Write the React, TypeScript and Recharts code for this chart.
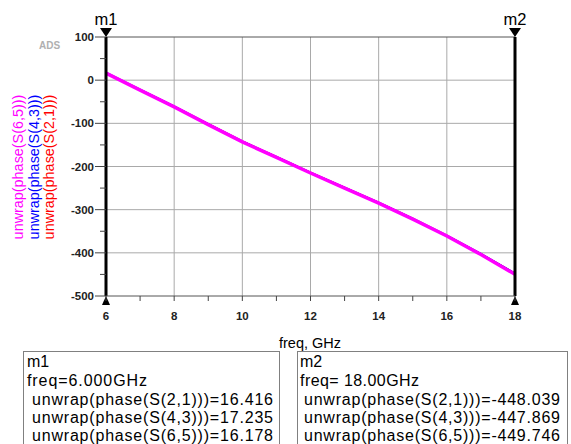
import React from 'react';
import {
  LineChart, Line, XAxis, YAxis, ReferenceLine, ReferenceDot,
} from 'recharts';

const freqs = [6, 7, 8, 9, 10, 11, 12, 13, 14, 15, 16, 17, 18];
const s21 = [16.416, -22.5, -61.5, -102, -142, -178, -214, -249, -284, -321, -360, -403, -448.039];
const s43 = [17.235, -22, -61, -102, -142, -178, -214, -249, -284, -321, -360, -402.5, -447.869];
const s65 = [16.178, -23, -62, -103, -143, -179, -215, -250, -285, -322, -361, -404, -449.746];

const xTicks = [6, 7, 8, 9, 10, 11, 12, 13, 14, 15, 16, 17, 18];
const yTicks = [-500, -450, -400, -350, -300, -250, -200, -150, -100, -50, 0, 50, 100];
const xGrid = [8, 10, 12, 14, 16];
const yGrid = [0, -100, -200, -300, -400];

const yLabels = [
  { text: 'unwrap(phase(S(6,5)))', color: '#ff00ff' },
  { text: 'unwrap(phase(S(4,3)))', color: '#0000ff' },
  { text: 'unwrap(phase(S(2,1)))', color: '#ff0000' },
];

const m1Lines = ['m1', 'freq=6.000GHz', 'unwrap(phase(S(2,1)))=16.416', 'unwrap(phase(S(4,3)))=17.235', 'unwrap(phase(S(6,5)))=16.178'];
const m2Lines = ['m2', 'freq= 18.00GHz', 'unwrap(phase(S(2,1)))=-448.039', 'unwrap(phase(S(4,3)))=-447.869', 'unwrap(phase(S(6,5)))=-449.746'];

const data = freqs.map((f, i) => ({ f, s21: s21[i], s43: s43[i], s65: s65[i] }));

const FONT = 'Arial, "Liberation Sans", sans-serif';
const GRID = '#a9a9a9';

const YTick = (props: any) => {
  const { x, y, payload } = props;
  const v = payload.value;
  const major = v % 100 === 0;
  return (
    <g>
      <line x1={x - (major ? 11 : 6)} x2={x} y1={y} y2={y} stroke="#444" strokeWidth={1} />
      {major && (
        <text x={x - 12} y={y} dy="0.36em" textAnchor="end" fontSize={11.5} fontWeight="bold" fontFamily={FONT} fill="#222">
          {v}
        </text>
      )}
    </g>
  );
};

const XTick = (props: any) => {
  const { x, y, payload } = props;
  const v = payload.value;
  const major = v % 2 === 0;
  return (
    <g>
      <line x1={x} x2={x} y1={y} y2={y + 5} stroke="#444" strokeWidth={1} />
      {major && (
        <text x={x} y={y + 24} textAnchor="middle" fontSize={11.5} fontWeight="bold" fontFamily={FONT} fill="#222">
          {v}
        </text>
      )}
    </g>
  );
};

const topMarker = (name: string) => (props: any) => {
  const { cx, cy } = props;
  return (
    <g>
      <path d={`M${cx - 6},${cy - 9} L${cx + 6},${cy - 9} L${cx},${cy} Z`} fill="#000" />
      <text x={cx} y={cy - 12} textAnchor="middle" fontSize={16.5} fontFamily={FONT} fill="#000">{name}</text>
    </g>
  );
};

const bottomMarker = (props: any) => {
  const { cx, cy } = props;
  return <path d={`M${cx - 4},${cy + 9} L${cx + 4},${cy + 9} L${cx},${cy} Z`} fill="#000" />;
};

const MarkerBox = ({ x, w, tx, ux, lines, longLen, freqLen }: { x: number; w: number; tx: number; ux: number; lines: string[]; longLen: number; freqLen: number }) => {
  const baselines = [367, 386, 404.5, 423, 441];
  return (
    <g>
      <rect x={x + 0.5} y={351.5} width={w} height={120} fill="#fff" stroke="#808080" strokeWidth={1} />
      {lines.map((t, i) => {
        const extra: any = {};
        if (i >= 2) { extra.textLength = longLen; }
        if (i === 1) { extra.textLength = freqLen; }
        return (
          <text key={i} x={i >= 2 ? ux : tx} y={baselines[i]} fontSize={16} fontFamily={FONT} fill="#000" {...extra}>
            {t}
          </text>
        );
      })}
    </g>
  );
};

export default function App() {
  return (
    <div style={{ position: 'absolute', left: 0, top: 0, width: 571, height: 444, background: '#fff', overflow: 'hidden' }}>
      <LineChart
        width={571}
        height={444}
        data={data}
        margin={{ top: 37, right: 56, left: 46, bottom: 118 }}
      >
        <XAxis
          dataKey="f"
          type="number"
          domain={[6, 18]}
          ticks={xTicks}
          interval={0}
          height={30}
          tick={<XTick />}
          tickLine={false}
          tickSize={0}
          tickMargin={0}
          axisLine={{ stroke: '#555', strokeWidth: 1 }}
        />
        <YAxis
          type="number"
          domain={[-500, 100]}
          ticks={yTicks}
          interval={0}
          width={60}
          tick={<YTick />}
          tickLine={false}
          tickSize={0}
          tickMargin={0}
          axisLine={false}
        />
        <ReferenceLine x={xGrid[0]} stroke={GRID} strokeWidth={1} />
        <ReferenceLine x={xGrid[1]} stroke={GRID} strokeWidth={1} />
        <ReferenceLine x={xGrid[2]} stroke={GRID} strokeWidth={1} />
        <ReferenceLine x={xGrid[3]} stroke={GRID} strokeWidth={1} />
        <ReferenceLine x={xGrid[4]} stroke={GRID} strokeWidth={1} />
        <ReferenceLine y={yGrid[0]} stroke={GRID} strokeWidth={1} />
        <ReferenceLine y={yGrid[1]} stroke={GRID} strokeWidth={1} />
        <ReferenceLine y={yGrid[2]} stroke={GRID} strokeWidth={1} />
        <ReferenceLine y={yGrid[3]} stroke={GRID} strokeWidth={1} />
        <ReferenceLine y={yGrid[4]} stroke={GRID} strokeWidth={1} />
        <ReferenceLine y={100} stroke="#555" strokeWidth={1} />
        <Line dataKey="s21" stroke="#ff0000" strokeWidth={2} dot={false} isAnimationActive={false} />
        <Line dataKey="s43" stroke="#0000ff" strokeWidth={2} dot={false} isAnimationActive={false} />
        <Line dataKey="s65" stroke="#ff00ff" strokeWidth={3.5} dot={false} isAnimationActive={false} />
        <ReferenceLine x={6} stroke="#000" strokeWidth={3} />
        <ReferenceLine x={18} stroke="#000" strokeWidth={3} />
        <ReferenceDot x={6} y={100} r={0} ifOverflow="visible" shape={topMarker('m1')} />
        <ReferenceDot x={18} y={100} r={0} ifOverflow="visible" shape={topMarker('m2')} />
        <ReferenceDot x={6} y={-500} r={0} ifOverflow="visible" shape={bottomMarker} />
        <ReferenceDot x={18} y={-500} r={0} ifOverflow="visible" shape={bottomMarker} />
      </LineChart>
      <svg width={571} height={444} style={{ position: 'absolute', left: 0, top: 0, pointerEvents: 'none' }}>
        <text x={39} y={49} fontSize={10} fontWeight="bold" fontFamily={FONT} fill="#b0b0b0">ADS</text>
        {yLabels.map((l, i) => (
          <text
            key={i}
            transform={`translate(${18 + i * 15.5},167) rotate(-90)`}
            textAnchor="middle"
            dominantBaseline="central"
            fontSize={14.4}
            fontFamily={FONT}
            fill={l.color}
          >
            {l.text}
          </text>
        ))}
        <text x={310} y={348} textAnchor="middle" fontSize={14.5} fontFamily={FONT} fill="#000">freq, GHz</text>
        <MarkerBox x={23} w={256} tx={27} ux={32} lines={m1Lines} longLen={241} freqLen={120} />
        <MarkerBox x={297} w={270} tx={300} ux={304} lines={m2Lines} longLen={256} freqLen={119} />
      </svg>
    </div>
  );
}
